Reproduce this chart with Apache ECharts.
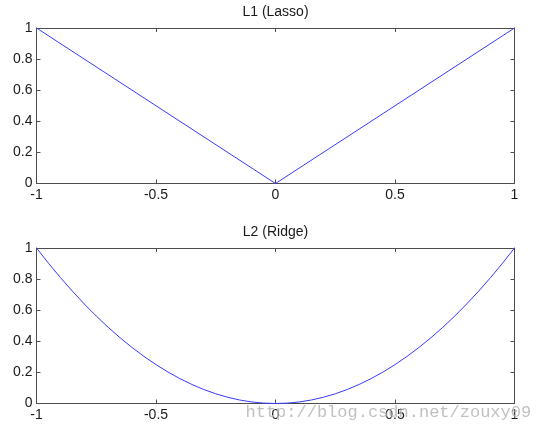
<!DOCTYPE html>
<html>
<head>
<meta charset="utf-8">
<script src="https://cdn.jsdelivr.net/npm/echarts@6/dist/echarts.min.js"></script>
<style>html,body{margin:0;padding:0;background:#fff}#c{width:537px;height:431px}</style>
</head>
<body>
<div id="c"></div>
<script>
// Data
var titles = ['L1 (Lasso)', 'L2 (Ridge)'];
var xTicks = [-1, -0.5, 0, 0.5, 1];
var yTicks = [0, 0.2, 0.4, 0.6, 0.8, 1];
var l1X = [-1, 0, 1];
var l1Y = [1, 0, 1];
var l2X = [-1, -0.95, -0.9, -0.85, -0.8, -0.75, -0.7, -0.65, -0.6, -0.55, -0.5, -0.45, -0.4, -0.35, -0.3, -0.25, -0.2, -0.15, -0.1, -0.05, 0,
           0.05, 0.1, 0.15, 0.2, 0.25, 0.3, 0.35, 0.4, 0.45, 0.5, 0.55, 0.6, 0.65, 0.7, 0.75, 0.8, 0.85, 0.9, 0.95, 1];
var l2Y = [1, 0.9025, 0.81, 0.7225, 0.64, 0.5625, 0.49, 0.4225, 0.36, 0.3025, 0.25, 0.2025, 0.16, 0.1225, 0.09, 0.0625, 0.04, 0.0225, 0.01, 0.0025, 0,
           0.0025, 0.01, 0.0225, 0.04, 0.0625, 0.09, 0.1225, 0.16, 0.2025, 0.25, 0.3025, 0.36, 0.4225, 0.49, 0.5625, 0.64, 0.7225, 0.81, 0.9025, 1];
var watermark = 'http://blog.csdn.net/zouxy09';

function pairs(xs, ys) { return xs.map(function (x, i) { return [x, ys[i]]; }); }

var font = 'Arial, "Liberation Sans", sans-serif';
var axisColor = '#4d4d4d';
var lineColor = '#3a3aff';

var grids = [
  { left: 36.5, top: 28, width: 478, height: 155.5 },
  { left: 36.5, top: 248, width: 478, height: 155.5 }
];

var xAxes = [], yAxes = [], series = [], titleArr = [];
var datas = [pairs(l1X, l1Y), pairs(l2X, l2Y)];
grids.forEach(function (g, i) {
  var common = {
    type: 'value', gridIndex: i,
    axisLine: { show: true, onZero: false, lineStyle: { color: axisColor, width: 1 } },
    axisTick: { show: true, inside: true, length: 4, lineStyle: { color: axisColor } },
    splitLine: { show: false }
  };
  xAxes.push(Object.assign({}, common, {
    position: 'bottom', min: xTicks[0], max: xTicks[xTicks.length - 1], interval: 0.5,
    axisLabel: { show: true, margin: 5, color: '#1a1a1a', fontSize: 14, fontFamily: font }
  }));
  xAxes.push(Object.assign({}, common, {
    position: 'top', min: xTicks[0], max: xTicks[xTicks.length - 1], interval: 0.5,
    axisLabel: { show: false }
  }));
  yAxes.push(Object.assign({}, common, {
    position: 'left', min: yTicks[0], max: yTicks[yTicks.length - 1], interval: 0.2,
    axisLabel: { show: true, margin: 4, color: '#1a1a1a', fontSize: 14, fontFamily: font }
  }));
  yAxes.push(Object.assign({}, common, {
    position: 'right', min: yTicks[0], max: yTicks[yTicks.length - 1], interval: 0.2,
    axisLabel: { show: false }
  }));
  series.push({
    type: 'line', xAxisIndex: i * 2, yAxisIndex: i * 2,
    data: datas[i], showSymbol: false, smooth: false,
    lineStyle: { color: lineColor, width: 1 }, silent: true, animation: false
  });
  titleArr.push({
    text: titles[i], left: g.left + g.width / 2, textAlign: 'center',
    top: g.top - 23, padding: 0,
    textStyle: { fontSize: 14, fontWeight: 'normal', color: '#1a1a1a', fontFamily: font }
  });
});

var chart = echarts.init(document.getElementById('c'), null, { renderer: 'canvas' });
chart.setOption({
  animation: false,
  backgroundColor: '#fff',
  title: titleArr,
  grid: grids,
  xAxis: xAxes,
  yAxis: yAxes,
  series: series,
  graphic: [{
    type: 'text', left: 245, top: 403, z: 100, silent: true,
    style: {
      text: watermark, font: '17px "Liberation Mono", "DejaVu Sans Mono", monospace',
      fill: 'rgba(140,140,140,0.55)', stroke: 'rgba(255,255,255,0.6)', lineWidth: 1
    }
  }]
});
</script>
</body>
</html>
